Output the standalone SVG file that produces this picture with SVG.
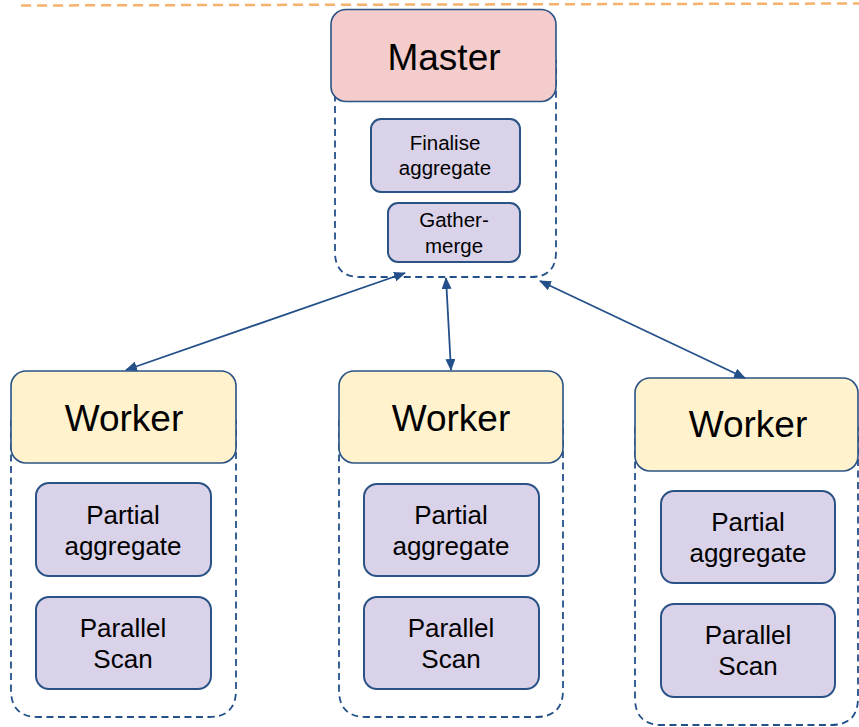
<svg xmlns="http://www.w3.org/2000/svg" width="859" height="727" viewBox="0 0 859 727">
<style>
text{font-family:"Liberation Sans",Arial,sans-serif;fill:#000;text-anchor:middle}
.cont{fill:none;stroke:#24508a;stroke-width:1.8;stroke-dasharray:7 4.5}
.hdr{stroke:#2b5284;stroke-width:1.6}
.master{fill:#f4cccc}
.worker{fill:#fff2cc}
.inner{fill:#d9d2e9;stroke:#2b5284;stroke-width:2}
.big{font-size:37px}
.sm{font-size:20.5px}
.md{font-size:26px}
.conn{stroke:#24508a;stroke-width:1.8;fill:none;marker-start:url(#ah);marker-end:url(#ah)}
</style>
<defs>
<marker id="ah" viewBox="0 0 12 10" refX="11" refY="5" markerWidth="12" markerHeight="10" markerUnits="userSpaceOnUse" orient="auto-start-reverse">
<path d="M0,0 L12,5 L0,10 Z" fill="#24508a"/>
</marker>
</defs>
<line x1="21" y1="5.5" x2="859" y2="3.5" stroke="#f6b26b" stroke-width="2.5" stroke-dasharray="10 6"/>
<g id="master">
<path class="cont" d="M335,60 V252 Q335,277 360,277 H531 Q556,277 556,252 V60"/>
<rect class="hdr master" x="331" y="9.5" width="225" height="92" rx="15"/>
<text class="big" x="444" y="70">Master</text>
</g>
<g id="finalise">
<rect class="inner" x="371" y="119" width="149" height="73" rx="10"/>
<text class="sm" x="445" y="150">Finalise</text>
<text class="sm" x="445" y="175">aggregate</text>
</g>
<g id="gather">
<rect class="inner" x="388" y="203" width="132" height="59" rx="10"/>
<text class="sm" x="454" y="227">Gather-</text>
<text class="sm" x="454" y="253">merge</text>
</g>
<g id="worker1">
<path class="cont" d="M11,420 V690 Q11,717 38,717 H209 Q236,717 236,690 V420"/>
<rect class="hdr worker" x="11" y="371" width="225" height="92" rx="15"/>
<text class="big" x="124" y="431">Worker</text>
</g>
<g id="w1partial">
<rect class="inner" x="36" y="483" width="175" height="93" rx="13"/>
<text class="md" x="123" y="524">Partial</text>
<text class="md" x="123" y="555">aggregate</text>
</g>
<g id="w1scan">
<rect class="inner" x="36" y="597" width="175" height="92" rx="13"/>
<text class="md" x="123" y="637">Parallel</text>
<text class="md" x="123" y="668">Scan</text>
</g>
<g id="worker2">
<path class="cont" d="M339,420 V690 Q339,717 366,717 H536 Q563,717 563,690 V420"/>
<rect class="hdr worker" x="339" y="371" width="224" height="92" rx="15"/>
<text class="big" x="451" y="431">Worker</text>
</g>
<g id="w2partial">
<rect class="inner" x="364" y="484" width="175" height="92" rx="13"/>
<text class="md" x="451" y="524">Partial</text>
<text class="md" x="451" y="555">aggregate</text>
</g>
<g id="w2scan">
<rect class="inner" x="364" y="597" width="175" height="92" rx="13"/>
<text class="md" x="451" y="637">Parallel</text>
<text class="md" x="451" y="668">Scan</text>
</g>
<g id="worker3">
<path class="cont" d="M635,427 V698 Q635,725 662,725 H831 Q858,725 858,698 V427"/>
<rect class="hdr worker" x="635" y="378" width="223" height="93" rx="15"/>
<text class="big" x="748" y="437">Worker</text>
</g>
<g id="w3partial">
<rect class="inner" x="661" y="491" width="174" height="92" rx="13"/>
<text class="md" x="748" y="531">Partial</text>
<text class="md" x="748" y="562">aggregate</text>
</g>
<g id="w3scan">
<rect class="inner" x="661" y="604" width="174" height="93" rx="13"/>
<text class="md" x="748" y="644">Parallel</text>
<text class="md" x="748" y="675">Scan</text>
</g>
<g id="connectors">
<line class="conn" x1="405" y1="273" x2="126" y2="370"/>
<line class="conn" x1="446" y1="278" x2="451" y2="370"/>
<line class="conn" x1="540" y1="281" x2="745" y2="378"/>
</g>
</svg>
